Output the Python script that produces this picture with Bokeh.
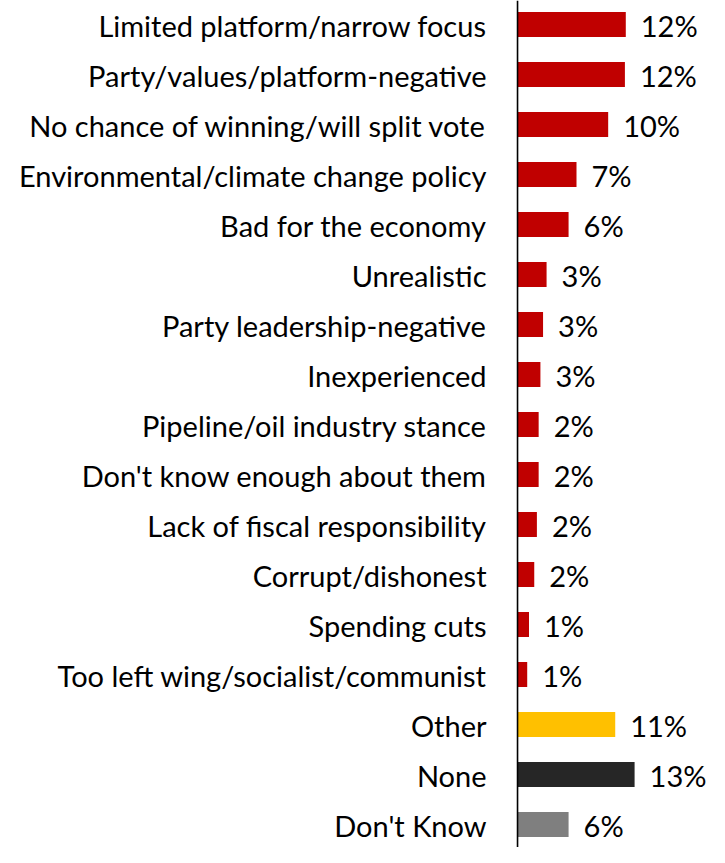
from bokeh.plotting import figure
from bokeh.models import ColumnDataSource, Range1d, Span
from bokeh.core.properties import value
from bokeh.embed import file_html
from bokeh.resources import INLINE

categories = [
    "Limited platform/narrow focus",
    "Party/values/platform-negative",
    "No chance of winning/will split vote",
    "Environmental/climate change policy",
    "Bad for the economy",
    "Unrealistic",
    "Party leadership-negative",
    "Inexperienced",
    "Pipeline/oil industry stance",
    "Don't know enough about them",
    "Lack of fiscal responsibility",
    "Corrupt/dishonest",
    "Spending cuts",
    "Too left wing/socialist/communist",
    "Other",
    "None",
    "Don't Know",
]
values = [12.3, 12.2, 10.3, 6.7, 5.8, 3.3, 2.9, 2.6, 2.4, 2.4, 2.2, 1.9, 1.3, 1.1, 11.1, 13.3, 5.8]
labels = ["12%", "12%", "10%", "7%", "6%", "3%", "3%", "3%", "2%", "2%", "2%", "2%", "1%", "1%", "11%", "13%", "6%"]
colors = ["#C00000"] * 14 + ["#FFC000", "#262626", "#7F7F7F"]

W, H = 709, 847
sx = W / 725.0
px_per_unit = 9.0 * sx
axis_px = 528.7 * sx
row_px = 50.0
top_px = 24.0

ys = list(range(len(categories)))
src = ColumnDataSource(dict(y=ys, v=values, cat=categories, lab=labels, color=colors, zero=[0] * len(ys)))

p = figure(width=W, height=H, output_backend="svg", toolbar_location=None,
           x_range=Range1d(-axis_px / px_per_unit, (W - axis_px) / px_per_unit),
           y_range=Range1d((H - top_px) / row_px, -top_px / row_px),
           min_border=0, min_border_left=0, min_border_right=0, min_border_top=0, min_border_bottom=0)
p.axis.visible = False
p.grid.visible = False
p.outline_line_color = None
p.background_fill_color = "white"
p.border_fill_color = "white"

p.hbar(y="y", left="zero", right="v", height=0.5, fill_color="color", line_color=None, source=src)

p.add_layout(Span(location=0, dimension="height", line_color="#000000", line_width=1.6))

FONT = value("Lato")
p.text(x="zero", y="y", text="cat", source=src, text_align="right", text_baseline="middle",
       x_offset=-31, y_offset=1, text_font=FONT, text_font_size="29px", text_color="#000000")
p.text(x="v", y="y", text="lab", source=src, text_align="left", text_baseline="middle",
       x_offset=15, y_offset=1, text_font=FONT, text_font_size="29px", text_color="#000000")

open("out.html", "w").write(file_html(p, INLINE))
